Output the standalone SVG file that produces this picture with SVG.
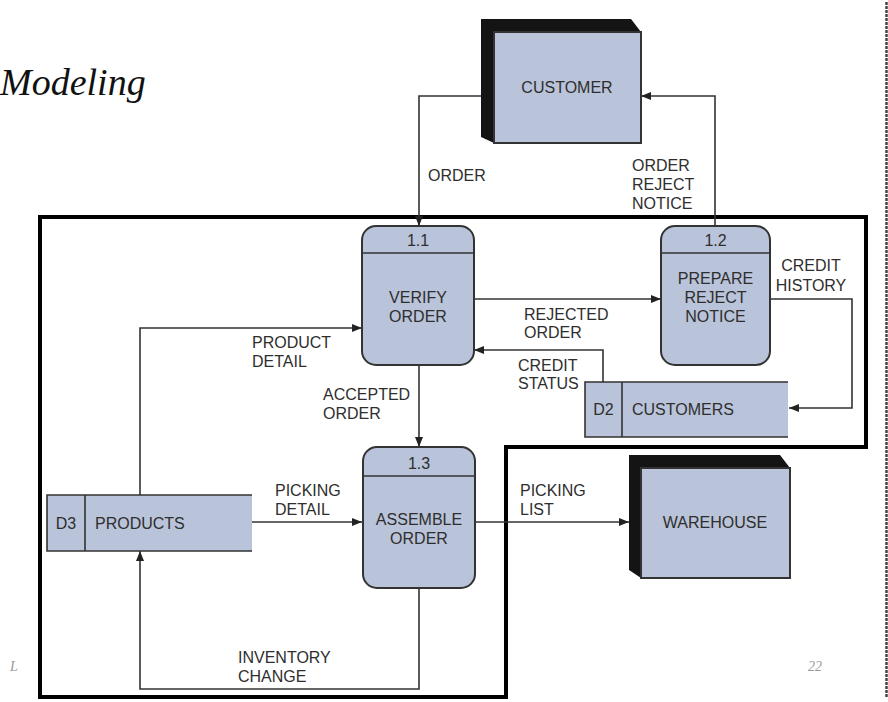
<svg xmlns="http://www.w3.org/2000/svg" width="888" height="702" viewBox="0 0 888 702">
<style>
.t{font-family:"Liberation Sans",Arial,sans-serif;font-size:16px;fill:#2e2e2e;}
.c{text-anchor:middle;}
.box{fill:#b9c3d9;stroke:#333;stroke-width:2;}
.fill{fill:#b9c3d9;}
.ln{fill:none;stroke:#333;stroke-width:1.6;}
.sh{fill:#141414;}
.flow{fill:none;stroke:#333;stroke-width:1.6;}
</style>
<defs>
<marker id="ah" viewBox="0 0 10 8" refX="10" refY="4" markerWidth="10" markerHeight="8" markerUnits="userSpaceOnUse" orient="auto">
<path d="M0,0 L10,4 L0,8 z" fill="#222"/>
</marker>
</defs>
<rect width="888" height="702" fill="#fff"/>
<text x="0" y="95" font-family="'Liberation Serif','Times New Roman',serif" font-style="italic" font-size="38" fill="#111">Modeling</text>
<text x="10" y="671" font-family="'Liberation Serif',serif" font-style="italic" font-size="14" fill="#999">L</text>
<text x="808" y="671" font-family="'Liberation Serif',serif" font-style="italic" font-size="14" fill="#999">22</text>
<line x1="886.5" y1="2" x2="886.5" y2="698" stroke="#444" stroke-width="2.5" stroke-dasharray="3 1"/>

<g id="frame">
<path d="M40,217 L866,217 L866,447 L506,447 L506,697 L40,697 Z" fill="none" stroke="#000" stroke-width="4"/>
</g>

<g id="connectors">
<path class="flow" d="M493,96 L419,96 L419,226" marker-end="url(#ah)"/>
<path class="flow" d="M715,226 L715,96 L641,96" marker-end="url(#ah)"/>
<path class="flow" d="M474,299 L661,299" marker-end="url(#ah)"/>
<path class="flow" d="M770,299 L852,299 L852,408 L789,408" marker-end="url(#ah)"/>
<path class="flow" d="M603,382 L603,350 L474,350" marker-end="url(#ah)"/>
<path class="flow" d="M140,495 L140,328 L362,328" marker-end="url(#ah)"/>
<path class="flow" d="M419,365 L419,447" marker-end="url(#ah)"/>
<path class="flow" d="M252,522 L362,522" marker-end="url(#ah)"/>
<path class="flow" d="M474,522 L629,522" marker-end="url(#ah)"/>
<path class="flow" d="M419,588 L419,689 L140,689 L140,551" marker-end="url(#ah)"/>
<text class="t" x="428" y="181">ORDER</text>
<text class="t" x="632" y="171">ORDER</text>
<text class="t" x="632" y="190">REJECT</text>
<text class="t" x="632" y="209">NOTICE</text>
<text class="t" x="524" y="320">REJECTED</text>
<text class="t" x="524" y="338">ORDER</text>
<text class="t c" x="811" y="271">CREDIT</text>
<text class="t c" x="811" y="291">HISTORY</text>
<text class="t" x="518" y="371">CREDIT</text>
<text class="t" x="518" y="389">STATUS</text>
<text class="t" x="252" y="348">PRODUCT</text>
<text class="t" x="252" y="367">DETAIL</text>
<text class="t" x="323" y="400">ACCEPTED</text>
<text class="t" x="323" y="419">ORDER</text>
<text class="t" x="275" y="496">PICKING</text>
<text class="t" x="275" y="515">DETAIL</text>
<text class="t" x="520" y="496">PICKING</text>
<text class="t" x="520" y="515">LIST</text>
<text class="t" x="238" y="663">INVENTORY</text>
<text class="t" x="238" y="682">CHANGE</text>
</g>

<g id="customer">
<path class="sh" d="M481,19 L631,19 L641,32 L641,143 L494,143 L481,137 Z"/>
<rect class="box" x="494" y="32" width="147" height="111" stroke-width="1.5"/>
<text class="t c" x="567" y="93">CUSTOMER</text>
</g>

<g id="warehouse">
<path class="sh" d="M629,455 L780,455 L790,468 L790,578 L641,578 L629,570 Z"/>
<rect class="box" x="641" y="468" width="149" height="110" stroke-width="1.5"/>
<text class="t c" x="715" y="528">WAREHOUSE</text>
</g>

<g id="p11">
<rect class="box" x="362" y="226" width="112" height="139" rx="14"/>
<line class="ln" x1="362" y1="253" x2="474" y2="253" stroke-width="2"/>
<text class="t c" x="418" y="246">1.1</text>
<text class="t c" x="418" y="303">VERIFY</text>
<text class="t c" x="418" y="322">ORDER</text>
</g>

<g id="p12">
<rect class="box" x="661" y="226" width="109" height="139" rx="14"/>
<line class="ln" x1="661" y1="253" x2="770" y2="253" stroke-width="2"/>
<text class="t c" x="715.5" y="246">1.2</text>
<text class="t c" x="715.5" y="284">PREPARE</text>
<text class="t c" x="715.5" y="303">REJECT</text>
<text class="t c" x="715.5" y="322">NOTICE</text>
</g>

<g id="p13">
<rect class="box" x="363" y="447" width="112" height="141" rx="14"/>
<line class="ln" x1="363" y1="476" x2="475" y2="476" stroke-width="2"/>
<text class="t c" x="419" y="469">1.3</text>
<text class="t c" x="419" y="525">ASSEMBLE</text>
<text class="t c" x="419" y="544">ORDER</text>
</g>

<g id="d2">
<rect class="fill" x="585" y="382" width="203" height="55"/>
<path class="ln" d="M788,382 L585,382 L585,437 L788,437 M622,382 L622,437" stroke-width="2"/>
<text class="t c" x="603.5" y="415">D2</text>
<text class="t" x="632" y="415">CUSTOMERS</text>
</g>

<g id="d3">
<rect class="fill" x="47" y="495" width="205" height="56"/>
<path class="ln" d="M252,495 L47,495 L47,551 L252,551 M85,495 L85,551" stroke-width="2"/>
<text class="t c" x="66" y="529">D3</text>
<text class="t" x="95" y="529">PRODUCTS</text>
</g>
</svg>
